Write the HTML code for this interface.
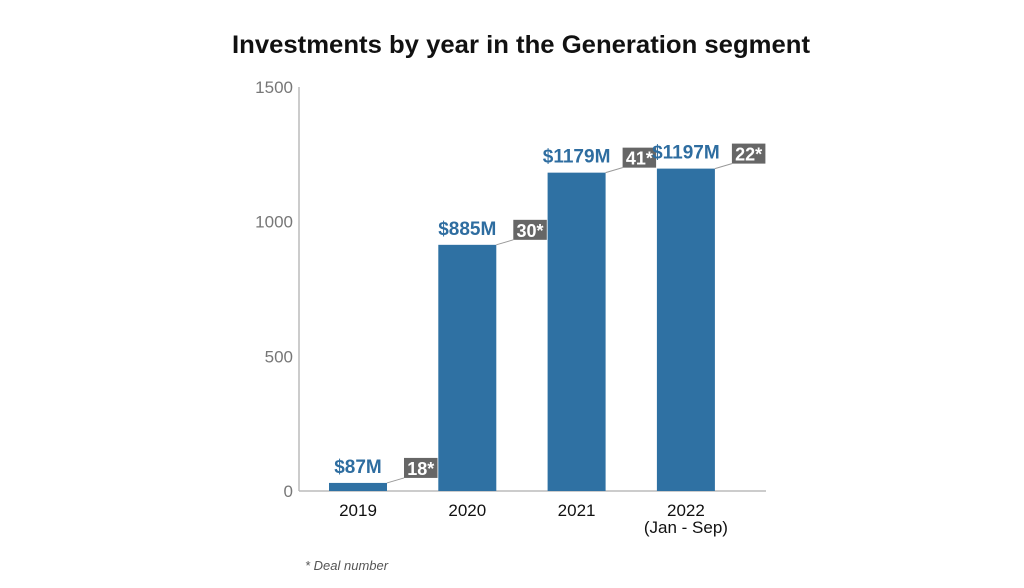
<!DOCTYPE html>
<html><head><meta charset="utf-8"><style>
body{margin:0;background:#fff;}
svg{display:block;font-family:"Liberation Sans",sans-serif;}
</style></head><body>
<svg id="c" width="1024" height="588">
<text x="521" y="53" text-anchor="middle" font-size="25" font-weight="bold" fill="#111" textLength="578" lengthAdjust="spacingAndGlyphs">Investments by year in the Generation segment</text>
<text x="305" y="570" font-size="13" font-style="italic" fill="#555">* Deal number</text>
</svg>
<script>
const categories=["2019","2020","2021","2022"];
const subLabels=["","","","(Jan - Sep)"];
const barHeights=[30,914,1182,1197];
const valueLabels=["$87M","$885M","$1179M","$1197M"];
const dealNumbers=["18*","30*","41*","22*"];
const yTicks=[0,500,1000,1500];
const svg=document.getElementById('c');
const NS="http://www.w3.org/2000/svg";
const y0=491,yTop=87,yMax=1500;
const y=v=>y0-(y0-yTop)*v/yMax;
const x=i=>329+i*109.3;
const bw=58;
function mk(t,a,txt){const e=document.createElementNS(NS,t);for(const k in a)e.setAttribute(k,a[k]);if(txt!==undefined)e.textContent=txt;svg.appendChild(e);return e;}
let e;
e=mk('line',{x1:299,y1:87,x2:299,y2:y0,stroke:'#bbb','stroke-width':1.5});


e=mk('line',{x1:299,y1:y0,x2:766,y2:y0,stroke:'#bbb','stroke-width':1.5});


yTicks.forEach(t=>{
 e=mk('text',{x:293,y:y(t)+6,'text-anchor':'end','font-size':17,fill:'#777'},String(t));
 
 
});
categories.forEach((c,i)=>{
 const bx=x(i),by=y(barHeights[i]);
 e=mk('rect',{x:bx,y:by,width:bw,height:y0-by,fill:'#2f71a3'});
 
 
 e=mk('text',{x:bx+bw/2,y:by-10,'text-anchor':'middle','font-size':19,'font-weight':'bold',fill:'#2e6da0'},valueLabels[i]);
 
 
 const boxX=bx+bw+17,boxB=by-5,bwid=dealNumbers[i].length*10.5+2;
 e=mk('line',{x1:bx+bw,y1:by,x2:boxX,y2:boxB,stroke:'#999','stroke-width':1});
 
 
 e=mk('rect',{x:boxX,y:boxB-20,width:bwid,height:20,fill:'#666'});
 
 
 e=mk('text',{x:boxX+bwid/2,y:boxB-3,'text-anchor':'middle','font-size':18,'font-weight':'bold',fill:'#fff'},dealNumbers[i]);
 
 
 e=mk('text',{x:bx+bw/2,y:516,'text-anchor':'middle','font-size':17,fill:'#111'},c);
 
 
 if(subLabels[i]){
  e=mk('text',{x:bx+bw/2,y:533,'text-anchor':'middle','font-size':17,fill:'#111'},subLabels[i]);
  
  
 }
});
</script>
</body></html>
